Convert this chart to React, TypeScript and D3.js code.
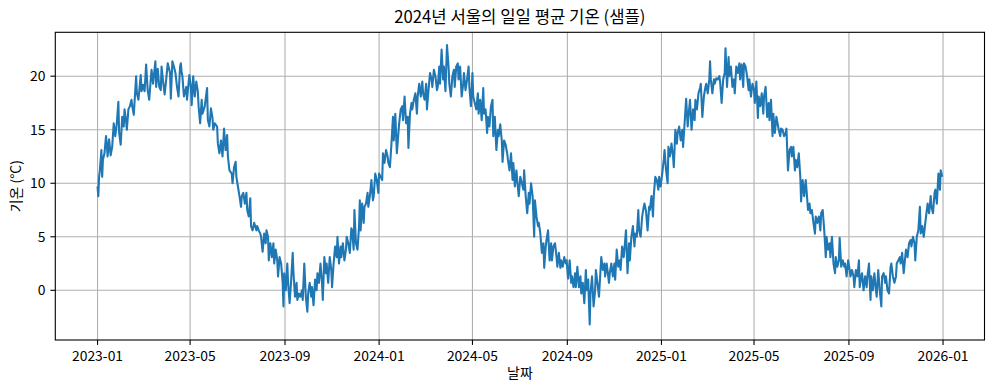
import * as d3 from "d3";

// daily mean temperature samples
// dayOffsets = days since START
const START = "2023-01-01";
const END = "2025-12-31";

const dayOffsets = [
  0, 1, 2, 3, 5, 6, 7, 9, 11, 12, 13, 15, 17, 19, 21, 23, 25, 27, 28, 30, 32, 34, 35, 37, 38, 40, 42, 44, 45, 47,
  50, 51, 53, 56, 57, 59, 61, 63, 65, 67, 69, 70, 72, 75, 76, 78, 80, 82, 83, 85, 87, 89, 91, 94, 95, 97, 99, 101, 103, 105,
  107, 108, 109, 110, 112, 115, 116, 119, 121, 122, 124, 126, 128, 130, 131, 133, 135, 136, 139, 142, 143, 145, 147, 149, 150, 152, 155, 156, 158, 160,
  162, 164, 166, 168, 169, 171, 174, 175, 177, 179, 180, 182, 184, 186, 187, 189, 191, 193, 194, 196, 198, 199, 201, 203, 206, 207, 209, 211, 212, 214,
  216, 218, 219, 221, 222, 224, 226, 228, 229, 231, 233, 234, 236, 238, 240, 241, 242, 244, 246, 247, 249, 251, 253, 254, 256, 258, 259, 261, 263, 265,
  266, 268, 270, 272, 273, 275, 277, 278, 280, 282, 284, 285, 287, 289, 291, 292, 294, 296, 297, 299, 301, 303, 304, 306, 308, 310, 311, 313, 315, 316,
  318, 320, 322, 323, 325, 327, 329, 330, 332, 333, 335, 337, 339, 340, 341, 343, 345, 346, 348, 350, 351, 353, 355, 357, 358, 360, 362, 364, 365, 367,
  369, 370, 372, 374, 376, 377, 379, 381, 383, 384, 386, 388, 390, 391, 393, 395, 396, 398, 400, 402, 403, 405, 407, 408, 410, 412, 414, 415, 417, 419,
  421, 422, 424, 426, 427, 429, 431, 433, 434, 436, 438, 440, 441, 443, 444, 446, 448, 449, 451, 453, 455, 456, 458, 460, 462, 463, 465, 467, 468, 470,
  472, 474, 475, 477, 479, 481, 482, 484, 486, 487, 489, 491, 493, 494, 496, 498, 500, 501, 503, 505, 506, 508, 510, 512, 513, 515, 517, 519, 520, 522,
  524, 525, 527, 529, 531, 532, 534, 536, 538, 539, 541, 543, 544, 546, 548, 550, 552, 553, 555, 557, 559, 560, 562, 564, 566, 567, 569, 571, 572, 574,
  576, 578, 579, 581, 582, 584, 586, 588, 589, 591, 593, 595, 596, 598, 600, 601, 603, 605, 607, 608, 610, 612, 614, 615, 617, 619, 620, 622, 624, 626,
  627, 629, 631, 633, 634, 636, 638, 639, 641, 643, 645, 646, 648, 650, 652, 653, 655, 657, 658, 660, 661, 663, 664, 666, 668, 670, 671, 673, 675, 677,
  678, 680, 682, 683, 685, 687, 689, 690, 692, 694, 696, 697, 699, 701, 702, 704, 706, 708, 709, 711, 713, 715, 716, 718, 720, 721, 723, 725, 727, 728,
  730, 732, 734, 735, 737, 739, 740, 742, 744, 746, 747, 749, 751, 752, 754, 756, 758, 759, 761, 763, 765, 766, 768, 770, 772, 774, 775, 777, 779, 781,
  782, 784, 786, 788, 789, 791, 793, 794, 795, 797, 799, 800, 802, 804, 806, 807, 809, 811, 813, 814, 816, 818, 819, 821, 823, 825, 826, 828, 830, 832,
  833, 835, 837, 838, 840, 842, 844, 845, 847, 849, 851, 852, 854, 856, 857, 859, 861, 863, 864, 866, 868, 870, 871, 873, 875, 876, 878, 880, 881, 883,
  885, 886, 888, 890, 892, 893, 895, 897, 899, 900, 902, 904, 905, 907, 909, 911, 912, 914, 916, 918, 919, 921, 923, 924, 926, 928, 930, 931, 933, 935,
  937, 938, 940, 942, 944, 945, 947, 949, 950, 952, 954, 956, 957, 959, 961, 962, 964, 966, 968, 969, 971, 973, 975, 976, 978, 980, 981, 983, 985, 987,
  988, 990, 991, 993, 995, 997, 998, 1000, 1002, 1003, 1005, 1007, 1009, 1010, 1012, 1014, 1016, 1017, 1019, 1021, 1022, 1024, 1026, 1028, 1029, 1031, 1033, 1035, 1036, 1038,
  1040, 1041, 1043, 1045, 1047, 1048, 1050, 1052, 1054, 1055, 1057, 1059, 1060, 1062, 1064, 1066, 1067, 1069, 1071, 1073, 1074, 1076, 1078, 1080, 1081, 1083, 1085, 1086, 1088, 1090,
  1092, 1093, 1095,
];

const temps = [
  9.7, 8.8, 10.6, 11.2, 13.1, 10.6, 12.2, 12.8, 14.4, 13.7, 12.5, 14.1, 12.6, 13.4, 15.6, 14.4, 15.6, 17.6, 14.7, 13.6, 16.2, 15.3, 16.9, 15.8, 15.0, 16.9, 17.2, 17.8, 17.2, 16.4,
  20.0, 18.4, 17.8, 20.1, 18.6, 19.2, 18.6, 21.1, 18.7, 17.8, 19.7, 20.6, 19.3, 21.4, 19.0, 20.7, 19.0, 18.7, 20.9, 19.5, 18.3, 19.7, 21.2, 20.3, 17.9, 21.4, 20.9, 20.3, 19.0, 18.1,
  20.9, 21.2, 20.4, 20.0, 18.1, 19.0, 17.8, 20.1, 19.0, 17.3, 20.0, 18.1, 19.5, 18.6, 17.2, 15.6, 17.8, 16.5, 17.2, 18.9, 15.9, 15.3, 17.0, 16.1, 15.0, 15.6, 15.3, 13.7, 12.8, 14.0,
  12.5, 15.1, 13.1, 14.5, 12.5, 11.2, 10.9, 10.0, 11.5, 12.0, 10.6, 9.7, 8.8, 7.8, 8.8, 9.1, 8.1, 9.1, 7.5, 6.9, 8.6, 6.0, 5.6, 6.3, 5.6, 6.0, 5.6, 5.3, 5.0, 3.6,
  5.3, 4.4, 5.6, 5.0, 2.8, 4.4, 3.1, 4.4, 2.5, 3.8, 2.8, 1.3, 3.1, 2.5, 0.7, -1.5, 1.6, 0.0, 2.5, 0.7, -1.2, 1.0, 3.5, 1.6, -0.6, 0.7, -0.9, -0.3, -0.6, 0.0,
  -0.9, 2.5, -0.6, -2.0, -0.3, 0.7, -0.6, 0.3, -1.4, 1.0, 0.0, 1.6, 0.7, 2.5, 0.7, -0.9, 3.1, 1.6, 2.5, 0.7, 3.1, 1.9, 0.3, 2.5, 4.1, 3.1, 5.0, 2.5, 4.1, 3.1,
  4.4, 2.8, 3.8, 5.0, 4.4, 3.5, 5.8, 5.6, 3.8, 7.5, 4.4, 3.8, 6.0, 8.4, 5.6, 8.1, 6.3, 7.8, 8.1, 9.1, 7.8, 8.8, 10.3, 8.4, 8.8, 10.9, 10.3, 9.1, 10.9, 10.6,
  10.3, 12.8, 11.9, 13.1, 12.5, 11.9, 11.5, 13.7, 16.2, 14.0, 16.5, 12.8, 14.7, 15.6, 16.9, 17.2, 15.9, 18.1, 15.6, 16.2, 13.3, 16.5, 17.5, 16.9, 17.8, 18.4, 16.5, 18.1, 19.3, 18.1,
  19.5, 18.4, 17.8, 19.3, 16.9, 18.7, 20.3, 19.7, 19.0, 20.6, 20.0, 18.7, 19.0, 20.9, 19.3, 22.5, 19.7, 20.9, 18.6, 22.9, 20.9, 19.3, 18.1, 20.0, 20.6, 19.0, 20.9, 21.2, 19.7, 20.9,
  18.1, 19.3, 20.3, 18.7, 19.7, 20.9, 19.0, 17.2, 20.3, 18.1, 17.5, 16.9, 18.4, 16.5, 17.8, 15.9, 18.9, 16.5, 16.9, 14.7, 16.2, 15.3, 17.2, 17.8, 14.4, 16.2, 13.1, 15.0, 14.4, 15.5,
  14.0, 12.0, 14.0, 13.6, 12.8, 12.2, 11.2, 12.8, 10.3, 11.9, 9.7, 11.2, 10.3, 8.8, 10.6, 10.0, 9.4, 11.2, 8.8, 7.2, 9.1, 8.1, 10.0, 8.8, 5.0, 8.4, 6.9, 6.0, 6.3, 5.3,
  3.5, 4.4, 2.1, 4.1, 4.7, 5.6, 2.8, 4.4, 2.8, 4.1, 4.4, 3.1, 2.2, 3.5, 2.1, 2.8, 2.2, 3.1, 2.5, 2.8, 1.1, 2.8, 0.7, 1.3, 0.3, 1.6, 0.3, 2.2, 0.3, 1.3,
  -0.3, 0.7, -1.2, 1.9, 0.0, 1.0, -3.2, -0.3, 1.3, -1.5, 0.0, 1.9, 0.7, -0.6, 1.9, 3.1, 1.9, 2.5, 1.3, 2.5, 1.9, 0.7, 1.6, 2.5, 1.3, 2.5, 1.0, 3.8, 2.2, 2.8,
  1.9, 4.1, 3.1, 3.8, 5.6, 1.6, 4.4, 2.8, 5.0, 6.0, 4.1, 5.3, 5.0, 7.5, 5.6, 5.0, 6.9, 7.8, 8.1, 7.4, 5.6, 7.8, 7.5, 8.8, 6.9, 8.8, 10.6, 10.3, 9.4, 10.6,
  9.7, 10.9, 12.2, 13.1, 11.2, 10.0, 13.4, 12.5, 13.7, 12.5, 11.5, 15.0, 13.7, 14.7, 15.3, 14.0, 15.0, 13.4, 15.6, 17.9, 15.3, 16.2, 17.8, 15.0, 16.9, 15.9, 17.8, 16.9, 18.4, 18.9,
  19.3, 16.2, 18.1, 19.0, 19.3, 18.4, 19.7, 21.4, 19.7, 18.4, 19.7, 19.3, 19.8, 19.7, 20.0, 19.5, 17.5, 19.7, 20.3, 22.6, 19.0, 21.8, 20.0, 20.9, 19.0, 19.7, 18.4, 20.9, 20.3, 21.2,
  19.7, 21.1, 19.0, 21.2, 20.9, 20.0, 18.7, 19.7, 18.1, 19.3, 18.7, 17.5, 19.5, 16.1, 18.1, 17.2, 18.4, 16.5, 18.1, 19.0, 16.2, 17.5, 15.9, 17.8, 14.4, 16.5, 14.7, 16.2, 15.8, 15.0,
  14.4, 15.1, 15.0, 14.4, 14.7, 15.1, 11.2, 13.1, 13.4, 12.5, 13.4, 11.2, 12.2, 11.5, 12.8, 10.6, 8.3, 10.3, 8.8, 10.3, 9.4, 7.5, 8.1, 7.2, 7.5, 6.3, 5.3, 6.9, 6.3, 6.9,
  5.6, 7.2, 7.5, 5.6, 3.1, 5.0, 3.8, 4.4, 3.1, 5.0, 2.5, 1.6, 3.1, 2.2, 2.8, 4.9, 2.2, 2.8, 2.2, 2.5, 1.3, 2.8, 1.9, 1.3, 1.9, 1.3, 0.3, 1.9, 1.3, 2.8,
  0.3, 1.3, 1.6, 0.0, 1.3, 0.3, 1.3, 2.5, -0.9, 1.3, 0.0, 1.6, 0.0, -0.6, 1.9, 0.0, -1.5, 1.3, 1.6, 0.7, 1.3, 0.0, -0.3, 2.2, 2.5, 1.3, 0.7, 1.3, 2.5, 2.8,
  3.1, 2.5, 3.5, 1.6, 3.1, 3.8, 3.1, 4.4, 4.7, 4.1, 5.0, 4.4, 2.8, 5.0, 5.6, 7.8, 5.3, 6.0, 5.0, 6.3, 6.9, 8.1, 7.2, 8.8, 7.8, 7.2, 9.1, 9.4, 8.1, 10.9,
  9.4, 11.2, 10.6,
];

const TITLE = "2024년 서울의 일일 평균 기온 (샘플)";
const X_LABEL = "날짜";
const Y_LABEL = "기온 (°C)";
const yTickValues = [0, 5, 10, 15, 20];
const Y_LIMITS = [-4.64, 24.1];

const W = 994;
const H = 391;
const plot = { left: 55.3, right: 984.5, top: 32.3, bottom: 340 };
const FONT = "'Noto Sans CJK KR', 'Noto Sans', sans-serif";

export default function App() {
  const start = d3.utcParse("%Y-%m-%d")(START)!;
  const end = d3.utcParse("%Y-%m-%d")(END)!;
  const dates = dayOffsets.map((d) => d3.utcDay.offset(start, d));

  // matplotlib-style 5% margin on x
  const pad = (end.getTime() - start.getTime()) * 0.05;
  const x = d3
    .scaleUtc()
    .domain([new Date(start.getTime() - pad), new Date(end.getTime() + pad)])
    .range([plot.left, plot.right]);

  const y = d3.scaleLinear().domain(Y_LIMITS).range([plot.bottom, plot.top]);

  const xTicks = d3.utcMonth.range(start, d3.utcDay.offset(end, 2), 4);
  const fmt = d3.utcFormat("%Y-%m");

  const line = d3
    .line<number>()
    .x((_, i) => x(dates[i]))
    .y((t) => y(t));

  const midY = (plot.top + plot.bottom) / 2;
  const midX = (plot.left + plot.right) / 2;

  return (
    <svg
      width={W}
      height={H}
      style={{ position: "absolute", left: 0, top: 0, background: "#fff" }}
      fontFamily={FONT}
    >
      {/* grid */}
      <g stroke="#b0b0b0" strokeWidth={1.1}>
        {xTicks.map((t) => (
          <line key={"gx" + t.getTime()} x1={x(t)} x2={x(t)} y1={plot.top} y2={plot.bottom} />
        ))}
        {yTickValues.map((v) => (
          <line key={"gy" + v} x1={plot.left} x2={plot.right} y1={y(v)} y2={y(v)} />
        ))}
      </g>

      <path
        d={line(temps) || ""}
        fill="none"
        stroke="#1f77b4"
        strokeWidth={2.08}
        strokeLinejoin="round"
      />

      {/* frame */}
      <rect
        x={plot.left}
        y={plot.top}
        width={plot.right - plot.left}
        height={plot.bottom - plot.top}
        fill="none"
        stroke="#000"
        strokeWidth={1.1}
      />

      {/* x axis */}
      <g fontSize={13.9} fill="#000">
        {xTicks.map((t) => (
          <g key={"xt" + t.getTime()}>
            <line x1={x(t)} x2={x(t)} y1={plot.bottom} y2={plot.bottom + 4.9} stroke="#000" strokeWidth={1.1} />
            <text x={x(t)} y={plot.bottom + 21} textAnchor="middle">
              {fmt(t)}
            </text>
          </g>
        ))}
      </g>

      {/* y axis */}
      <g fontSize={13.9} fill="#000">
        {yTickValues.map((v) => (
          <g key={"yt" + v}>
            <line x1={plot.left - 4.9} x2={plot.left} y1={y(v)} y2={y(v)} stroke="#000" strokeWidth={1.1} />
            <text x={plot.left - 9.8} y={y(v)} dy="0.36em" textAnchor="end">
              {v}
            </text>
          </g>
        ))}
      </g>

      <text x={midX} y={378} textAnchor="middle" fontSize={13.9}>
        {X_LABEL}
      </text>
      <text
        transform={`translate(21,${midY}) rotate(-90)`}
        textAnchor="middle"
        fontSize={13.9}
      >
        {Y_LABEL}
      </text>
      <text x={midX} y={23} textAnchor="middle" fontSize={16.7}>
        {TITLE}
      </text>
    </svg>
  );
}
